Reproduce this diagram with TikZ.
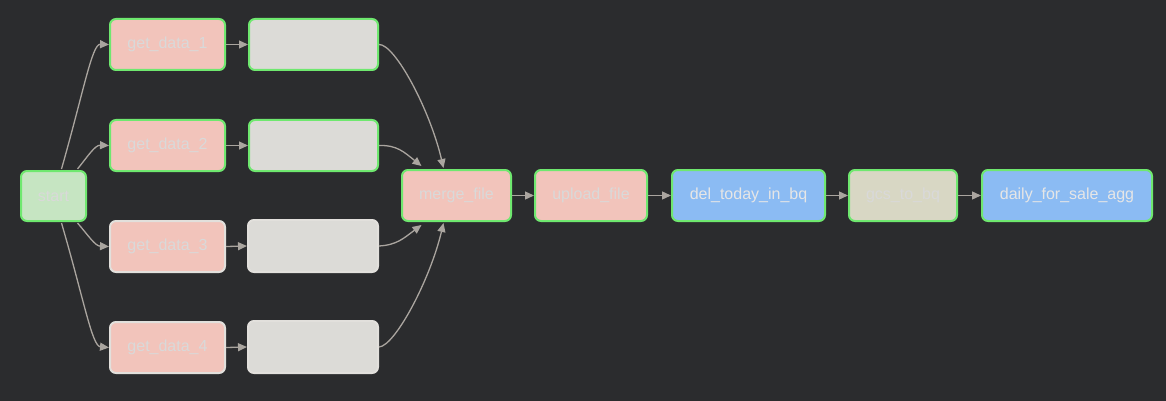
\documentclass[tikz,border=0pt]{standalone}
\usepackage{fontspec}
\setmainfont{Liberation Sans}
\usetikzlibrary{arrows.meta}
\definecolor{bg}{HTML}{2B2C2E}
\definecolor{salmon}{HTML}{F2C4BB}
\definecolor{lgray}{HTML}{DCDBD7}
\definecolor{lgreen}{HTML}{C6E5C2}
\definecolor{lblue}{HTML}{8BBBF3}
\definecolor{khaki}{HTML}{D8D7C4}
\definecolor{gborder}{HTML}{6FE86F}
\definecolor{wborder}{HTML}{E2E0DC}
\definecolor{txt}{HTML}{D9D9D9}
\definecolor{txtw}{HTML}{E6E6E6}
\definecolor{arrc}{HTML}{AAA59F}
\begin{document}
\begin{tikzpicture}[x=1pt,y=-1pt,
  task/.style={draw=gborder,line width=2pt,rounded corners=6pt,anchor=north west,
     inner sep=0pt,font=\fontsize{16}{16}\selectfont,text=txt},
  arr/.style={draw=arrc,line width=1.3pt,-{Triangle[length=9pt,width=8pt]}}]
\fill[bg] (0,0) rectangle (1166,401);
\useasboundingbox (0,0) rectangle (1166,401);
\node[task,fill=lgreen,minimum width=65pt,minimum height=50pt] (start) at (20,170) {start};
\node[task,fill=salmon,minimum width=115pt,minimum height=51pt] (gd1) at (109,18) {get\_data\_1};
\node[task,fill=salmon,minimum width=115pt,minimum height=51pt] (gd2) at (109,119) {get\_data\_2};
\node[task,fill=salmon,draw=wborder,minimum width=115pt,minimum height=51pt] (gd3) at (109,220) {get\_data\_3};
\node[task,fill=salmon,draw=wborder,minimum width=115pt,minimum height=51pt] (gd4) at (109,321) {get\_data\_4};
\node[task,fill=lgray,minimum width=129pt,minimum height=51pt] (b1) at (248,18) {};
\node[task,fill=lgray,minimum width=129pt,minimum height=51pt] (b2) at (248,119) {};
\node[task,fill=lgray,draw=wborder,minimum width=130pt,minimum height=52pt] (b3) at (247,219) {};
\node[task,fill=lgray,draw=wborder,minimum width=130pt,minimum height=52pt] (b4) at (247,320) {};
\node[task,fill=salmon,minimum width=109pt,minimum height=51pt] (merge) at (401,169) {merge\_file};
\node[task,fill=salmon,minimum width=112pt,minimum height=51pt] (upload) at (534,169) {upload\_file};
\node[task,fill=lblue,text=txtw,minimum width=153pt,minimum height=51pt] (del) at (671,169) {del\_today\_in\_bq};
\node[task,fill=khaki,minimum width=108pt,minimum height=51pt] (gcs) at (848,169) {gcs\_to\_bq};
\node[task,fill=lblue,text=txtw,minimum width=170pt,minimum height=51pt] (agg) at (981,169) {daily\_for\_sale\_agg};
% start fan-out
\draw[arr] ([xshift=8pt,yshift=1pt]start.north) .. controls (84,90) and (92,44) .. (gd1.west);
\draw[arr] ([xshift=24pt,yshift=1pt]start.north) .. controls (88,156) and (95,145) .. (gd2.west);
\draw[arr] ([xshift=24pt,yshift=-1pt]start.south) .. controls (88,235) and (95,246) .. (gd3.west);
\draw[arr] ([xshift=8pt,yshift=-1pt]start.south) .. controls (84,300) and (92,346) .. (gd4.west);
% get_data -> boxes
\draw[arr] (gd1.east) -- (b1.west);
\draw[arr] (gd2.east) -- (b2.west);
\draw[arr] (gd3.east) -- (b3.west);
\draw[arr] (gd4.east) -- (b4.west);
% boxes -> merge
\draw[arr] (b1.east) .. controls (395,44) and (430,110) .. ([xshift=-13pt,yshift=1pt]merge.north);
\draw[arr] (b2.east) .. controls (397,145) and (404,152) .. ([xshift=-35pt,yshift=3pt]merge.north);
\draw[arr] (b3.east) .. controls (397,245) and (404,238) .. ([xshift=-35pt,yshift=-3pt]merge.south);
\draw[arr] (b4.east) .. controls (395,346) and (430,280) .. ([xshift=-13pt,yshift=-1pt]merge.south);
% chain
\draw[arr] (merge) -- (upload);
\draw[arr] (upload) -- (del);
\draw[arr] (del) -- (gcs);
\draw[arr] (gcs) -- (agg);
\end{tikzpicture}
\end{document}
